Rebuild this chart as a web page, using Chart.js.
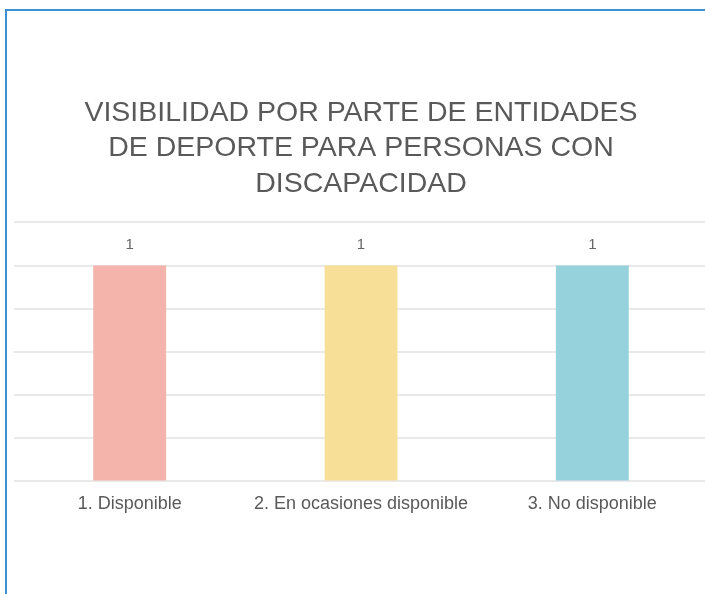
<!DOCTYPE html>
<html>
<head>
<meta charset="utf-8">
<script src="https://cdn.jsdelivr.net/npm/chart.js@4/dist/chart.umd.min.js"></script>
<style>
  html, body { margin: 0; padding: 0; background: #fff; overflow: hidden; }
  #frame {
    position: absolute; left: 5px; top: 9px; width: 760px; height: 640px;
    border-top: 2px solid #3b8fd2; border-left: 2px solid #3b8fd2;
  }
  #chart { position: absolute; left: 0; top: 0; }
</style>
</head>
<body>
<div id="frame"></div>
<canvas id="chart" width="722" height="594"></canvas>
<script>
const titleLines = ['VISIBILIDAD POR PARTE DE ENTIDADES', 'DE DEPORTE PARA PERSONAS CON', 'DISCAPACIDAD'];
const categories = ['1. Disponible', '2. En ocasiones disponible', '3. No disponible'];
const values = [1, 1, 1];
const barColors = ['#f4b3ab', '#f7df97', '#96d2db'];

// number above each bar
const valueLabels = {
    id: 'valueLabels',
    afterDatasetsDraw(chart) {
        const ctx = chart.ctx;
        const meta = chart.getDatasetMeta(0);
        ctx.save();
        ctx.font = '15px "Liberation Sans", Arial, sans-serif';
        ctx.fillStyle = '#666';
        ctx.textAlign = 'center';
        ctx.textBaseline = 'middle';
        meta.data.forEach((bar, i) => {
            ctx.fillText(values[i], bar.x, bar.y - 21);
        });
        ctx.restore();
    }
};

new Chart(document.getElementById('chart'), {
    type: 'bar',
    data: {
        labels: categories,
        datasets: [{
            data: values,
            backgroundColor: barColors,
            borderWidth: 0,
            categoryPercentage: 1,
            barPercentage: 0.315
        }]
    },
    options: {
        responsive: false,
        animation: false,
        layout: { padding: { left: 14, right: 14, top: 0, bottom: 67 } },
        plugins: {
            legend: { display: false },
            tooltip: { enabled: false },
            title: {
                display: true,
                text: titleLines,
                color: '#595959',
                font: { family: '"Liberation Sans", Arial, sans-serif', size: 28.5, weight: 'normal', lineHeight: 1.245 },
                padding: { top: 95, bottom: 21 }
            }
        },
        scales: {
            x: {
                grid: { display: false, drawTicks: false },
                border: { display: false },
                ticks: {
                    color: '#595959',
                    padding: 12,
                    font: { family: '"Liberation Sans", Arial, sans-serif', size: 18 }
                }
            },
            y: {
                min: 0,
                max: 1.2,
                ticks: { display: false, stepSize: 0.2 },
                grid: { color: '#e9e9e9', lineWidth: 2, drawTicks: false },
                border: { display: false }
            }
        }
    },
    plugins: [valueLabels]
});
</script>
</body>
</html>
